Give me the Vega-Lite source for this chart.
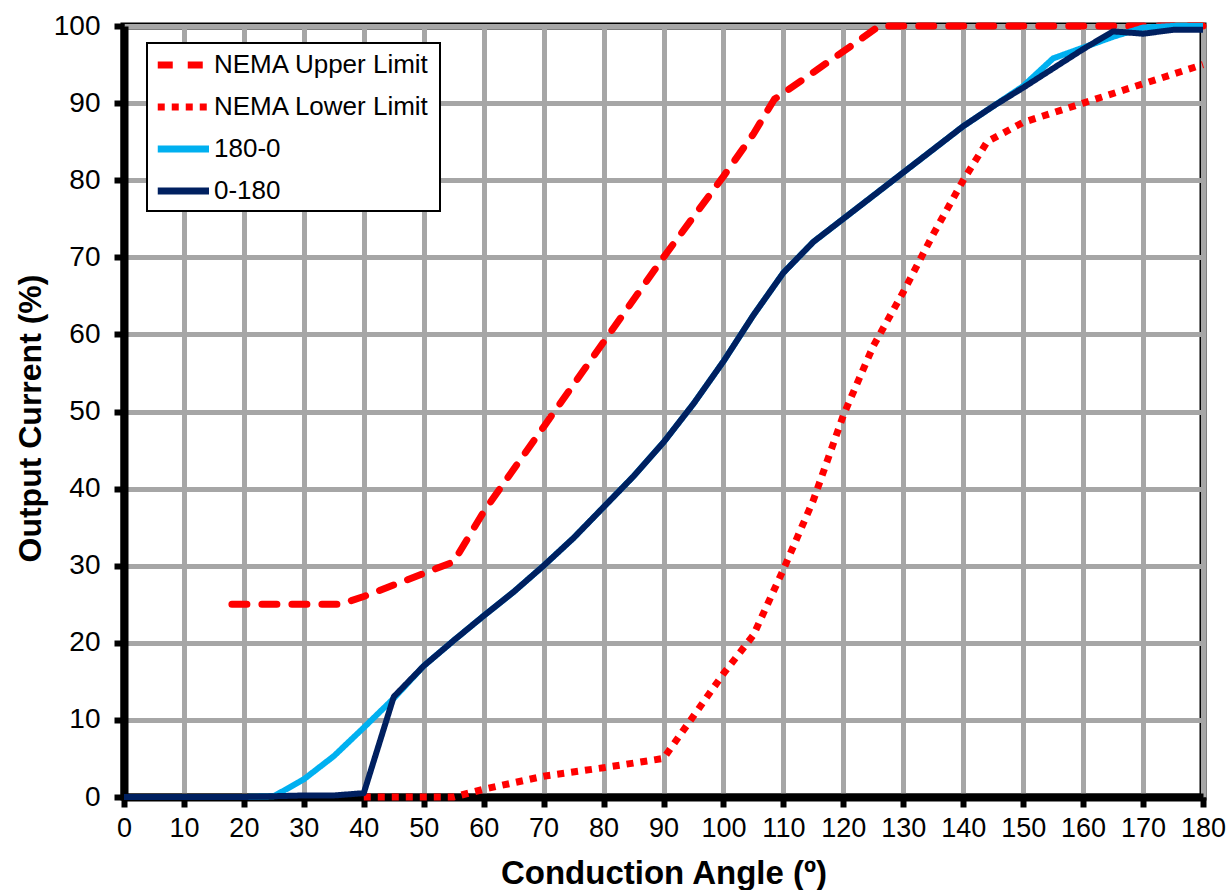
{
  "$schema": "https://vega.github.io/schema/vega-lite/v6.json",
  "width": 1079,
  "height": 771,
  "autosize": {"type": "none"},
  "padding": {"left": 124, "top": 26, "right": 27, "bottom": 93},
  "background": "white",
  "data": {"values": [
    {"series": "NEMA Upper Limit", "angle": 18, "current": 25},
    {"series": "NEMA Upper Limit", "angle": 36, "current": 25},
    {"series": "NEMA Upper Limit", "angle": 40, "current": 26},
    {"series": "NEMA Upper Limit", "angle": 55, "current": 30.5},
    {"series": "NEMA Upper Limit", "angle": 60, "current": 37},
    {"series": "NEMA Upper Limit", "angle": 70, "current": 48},
    {"series": "NEMA Upper Limit", "angle": 80, "current": 59},
    {"series": "NEMA Upper Limit", "angle": 90, "current": 70},
    {"series": "NEMA Upper Limit", "angle": 100, "current": 80.5},
    {"series": "NEMA Upper Limit", "angle": 105, "current": 86},
    {"series": "NEMA Upper Limit", "angle": 108.5, "current": 90.5},
    {"series": "NEMA Upper Limit", "angle": 110, "current": 91.3},
    {"series": "NEMA Upper Limit", "angle": 115, "current": 94},
    {"series": "NEMA Upper Limit", "angle": 120, "current": 96.7},
    {"series": "NEMA Upper Limit", "angle": 126, "current": 100},
    {"series": "NEMA Upper Limit", "angle": 180, "current": 100},
    {"series": "NEMA Lower Limit", "angle": 40, "current": 0},
    {"series": "NEMA Lower Limit", "angle": 55, "current": 0},
    {"series": "NEMA Lower Limit", "angle": 60, "current": 1},
    {"series": "NEMA Lower Limit", "angle": 70, "current": 2.7},
    {"series": "NEMA Lower Limit", "angle": 80, "current": 3.8},
    {"series": "NEMA Lower Limit", "angle": 90, "current": 5},
    {"series": "NEMA Lower Limit", "angle": 95, "current": 10.5},
    {"series": "NEMA Lower Limit", "angle": 100, "current": 16},
    {"series": "NEMA Lower Limit", "angle": 105, "current": 21},
    {"series": "NEMA Lower Limit", "angle": 110, "current": 29.5},
    {"series": "NEMA Lower Limit", "angle": 115, "current": 38.5},
    {"series": "NEMA Lower Limit", "angle": 120, "current": 49.5},
    {"series": "NEMA Lower Limit", "angle": 125, "current": 58.5},
    {"series": "NEMA Lower Limit", "angle": 130, "current": 65.5},
    {"series": "NEMA Lower Limit", "angle": 135, "current": 73},
    {"series": "NEMA Lower Limit", "angle": 140, "current": 80},
    {"series": "NEMA Lower Limit", "angle": 144, "current": 85},
    {"series": "NEMA Lower Limit", "angle": 150, "current": 87.5},
    {"series": "NEMA Lower Limit", "angle": 160, "current": 90},
    {"series": "NEMA Lower Limit", "angle": 170, "current": 92.5},
    {"series": "NEMA Lower Limit", "angle": 180, "current": 95},
    {"series": "180-0", "angle": 0, "current": 0},
    {"series": "180-0", "angle": 10, "current": 0},
    {"series": "180-0", "angle": 20, "current": 0},
    {"series": "180-0", "angle": 25, "current": 0.1},
    {"series": "180-0", "angle": 30, "current": 2.3},
    {"series": "180-0", "angle": 35, "current": 5.3},
    {"series": "180-0", "angle": 40, "current": 9},
    {"series": "180-0", "angle": 45, "current": 12.8},
    {"series": "180-0", "angle": 50, "current": 17},
    {"series": "180-0", "angle": 55, "current": 20.3},
    {"series": "180-0", "angle": 60, "current": 23.5},
    {"series": "180-0", "angle": 65, "current": 26.6},
    {"series": "180-0", "angle": 70, "current": 30},
    {"series": "180-0", "angle": 75, "current": 33.6},
    {"series": "180-0", "angle": 80, "current": 37.6},
    {"series": "180-0", "angle": 85, "current": 41.6},
    {"series": "180-0", "angle": 90, "current": 46},
    {"series": "180-0", "angle": 95, "current": 51},
    {"series": "180-0", "angle": 100, "current": 56.5},
    {"series": "180-0", "angle": 105, "current": 62.5},
    {"series": "180-0", "angle": 110, "current": 68},
    {"series": "180-0", "angle": 115, "current": 72},
    {"series": "180-0", "angle": 120, "current": 75},
    {"series": "180-0", "angle": 125, "current": 78},
    {"series": "180-0", "angle": 130, "current": 81},
    {"series": "180-0", "angle": 135, "current": 84},
    {"series": "180-0", "angle": 140, "current": 87},
    {"series": "180-0", "angle": 145, "current": 89.6},
    {"series": "180-0", "angle": 150, "current": 92.2},
    {"series": "180-0", "angle": 155, "current": 95.8},
    {"series": "180-0", "angle": 160, "current": 97.2},
    {"series": "180-0", "angle": 165, "current": 98.6},
    {"series": "180-0", "angle": 170, "current": 99.8},
    {"series": "180-0", "angle": 175, "current": 100},
    {"series": "180-0", "angle": 180, "current": 100},
    {"series": "0-180", "angle": 0, "current": 0},
    {"series": "0-180", "angle": 10, "current": 0},
    {"series": "0-180", "angle": 20, "current": 0},
    {"series": "0-180", "angle": 25, "current": 0.1},
    {"series": "0-180", "angle": 30, "current": 0.2},
    {"series": "0-180", "angle": 35, "current": 0.2},
    {"series": "0-180", "angle": 40, "current": 0.5},
    {"series": "0-180", "angle": 45, "current": 13},
    {"series": "0-180", "angle": 50, "current": 17},
    {"series": "0-180", "angle": 55, "current": 20.3},
    {"series": "0-180", "angle": 60, "current": 23.5},
    {"series": "0-180", "angle": 65, "current": 26.6},
    {"series": "0-180", "angle": 70, "current": 30},
    {"series": "0-180", "angle": 75, "current": 33.6},
    {"series": "0-180", "angle": 80, "current": 37.6},
    {"series": "0-180", "angle": 85, "current": 41.6},
    {"series": "0-180", "angle": 90, "current": 46},
    {"series": "0-180", "angle": 95, "current": 51},
    {"series": "0-180", "angle": 100, "current": 56.5},
    {"series": "0-180", "angle": 105, "current": 62.5},
    {"series": "0-180", "angle": 110, "current": 68},
    {"series": "0-180", "angle": 115, "current": 72},
    {"series": "0-180", "angle": 120, "current": 75},
    {"series": "0-180", "angle": 125, "current": 78},
    {"series": "0-180", "angle": 130, "current": 81},
    {"series": "0-180", "angle": 135, "current": 84},
    {"series": "0-180", "angle": 140, "current": 87},
    {"series": "0-180", "angle": 145, "current": 89.6},
    {"series": "0-180", "angle": 150, "current": 92},
    {"series": "0-180", "angle": 155, "current": 94.5},
    {"series": "0-180", "angle": 160, "current": 97},
    {"series": "0-180", "angle": 165, "current": 99.3},
    {"series": "0-180", "angle": 170, "current": 99},
    {"series": "0-180", "angle": 175, "current": 99.5},
    {"series": "0-180", "angle": 180, "current": 99.5}
  ]},
  "encoding": {
    "x": {
      "field": "angle", "type": "quantitative",
      "scale": {"domain": [0, 180], "nice": false, "zero": false},
      "axis": {
        "title": "Conduction Angle (º)",
        "values": [0,10,20,30,40,50,60,70,80,90,100,110,120,130,140,150,160,170,180],
        "titleY": 86, "titleBaseline": "alphabetic", "titleFontSize": 33
      }
    },
    "y": {
      "field": "current", "type": "quantitative",
      "scale": {"domain": [0, 100], "nice": false},
      "axis": {
        "title": "Output Current (%)",
        "values": [0,10,20,30,40,50,60,70,80,90,100],
        "titleX": -84, "titleY": 392, "titleBaseline": "alphabetic",
        "labelFontSize": 28
      }
    },
    "color": {
      "field": "series", "type": "nominal", "title": " ",
      "scale": {
        "domain": ["NEMA Upper Limit", "NEMA Lower Limit", "180-0", "0-180"],
        "range": ["#FF0000", "#FF0000", "#00B0F0", "#002060"]
      }
    },
    "strokeDash": {
      "field": "series", "type": "nominal", "title": " ",
      "scale": {
        "domain": ["NEMA Upper Limit", "NEMA Lower Limit", "180-0", "0-180"],
        "range": [[15, 15], [7, 7], [1, 0], [1, 0]]
      }
    }
  },
  "layer": [
    {"transform": [{"filter": "datum.series === 'NEMA Upper Limit'"}],
     "mark": {"type": "line", "strokeWidth": 7, "strokeCap": "round", "strokeJoin": "round"}},
    {"transform": [{"filter": "datum.series === 'NEMA Lower Limit'"}],
     "mark": {"type": "line", "strokeWidth": 7, "strokeCap": "butt", "strokeJoin": "miter"}},
    {"transform": [{"filter": "datum.series === '180-0'"}],
     "mark": {"type": "line", "strokeWidth": 6, "strokeCap": "butt", "strokeJoin": "round"}},
    {"transform": [{"filter": "datum.series === '0-180'"}],
     "mark": {"type": "line", "strokeWidth": 6, "strokeCap": "butt", "strokeJoin": "round"}}
  ],
  "config": {
    "font": "Liberation Sans",
    "view": {"stroke": "#000000", "strokeWidth": 7},
    "axis": {
      "domainColor": "#000000", "domainWidth": 8,
      "tickColor": "#000000", "tickWidth": 6, "tickSize": 10,
      "gridColor": "#A6A6A6", "gridWidth": 5, "gridOpacity": 1,
      "labelFont": "Liberation Sans", "labelFontSize": 27, "labelColor": "#000000",
      "labelFlush": false, "labelOverlap": false,
      "titleFont": "Liberation Sans", "titleFontSize": 32, "titleFontWeight": "bold", "titleColor": "#000000"
    },
    "axisX": {"labelPadding": 8},
    "axisY": {"labelPadding": 14},
    "legend": {
      "orient": "none", "legendX": 23, "legendY": 17,
      "direction": "vertical",
      "fillColor": "#FFFFFF", "strokeColor": "#000000", "strokeWidth": 2,
      "padding": 6,
      "titleOrient": "right", "titleFontSize": 8, "titlePadding": 5,
      "symbolType": "M-0.9,0H3.2", "symbolSize": 625, "symbolStrokeWidth": 7,
      "labelFont": "Liberation Sans", "labelFontSize": 26, "labelColor": "#000000",
      "labelOffset": 29, "rowPadding": 12, "labelLimit": 400
    }
  }
}
